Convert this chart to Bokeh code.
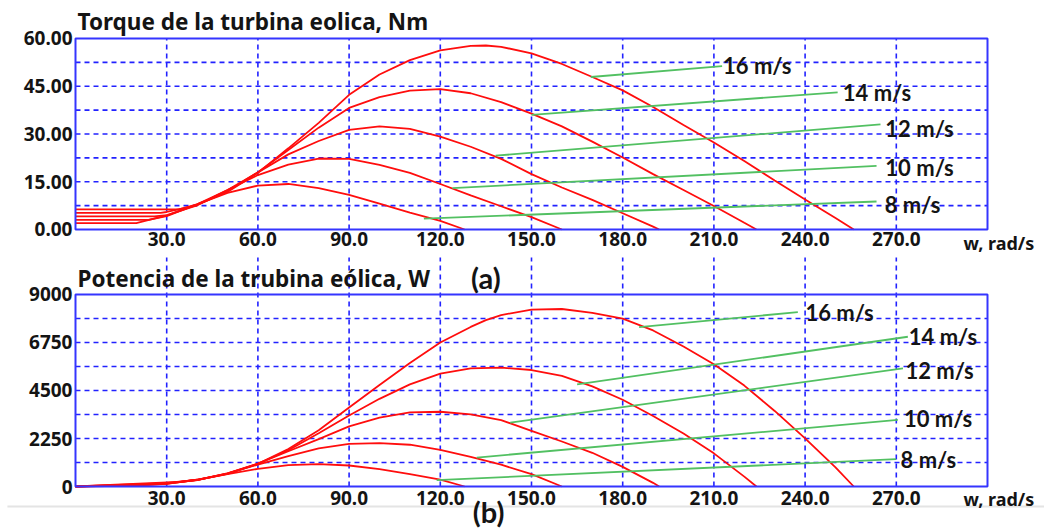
from bokeh.plotting import figure
from bokeh.layouts import column
from bokeh.models import FixedTicker, PrintfTickFormatter, Label, BoxAnnotation, Range1d
from bokeh.embed import file_html
from bokeh.resources import INLINE

# ---------------- data ----------------
speeds = ["8 m/s", "10 m/s", "12 m/s", "14 m/s", "16 m/s"]

# angular speed (rad/s), torque (Nm), power (W) for each wind speed
w8 = [0, 20, 30, 40, 50, 60, 70, 80, 90, 100, 110, 120, 128]
t8 = [2.0, 2.0, 4.4, 7.9, 11.5, 13.8, 14.3, 13.0, 10.9, 8.1, 5.3, 2.7, 0]
p8 = [0, 40, 132, 316, 575, 828, 1001, 1045, 985, 810, 585, 320, 0]

w10 = [0, 24, 30, 40, 50, 60, 70, 80, 90, 100, 110, 120, 130, 140, 150, 160]
t10 = [3.0, 3.0, 4.2, 7.9, 12.4, 17.1, 20.4, 22.3, 22.2, 20.3, 17.8, 14.3, 10.7, 7.3, 3.9, 0]
p10 = [0, 72, 126, 316, 620, 1026, 1428, 1784, 1998, 2030, 1958, 1720, 1391, 1022, 580, 0]

w12 = [0, 26, 30, 40, 50, 60, 70, 80, 90, 100, 110, 120, 130, 140, 150, 160, 170, 180, 190, 192]
t12 = [4.1, 4.1, 4.5, 7.6, 12.4, 17.9, 23.6, 27.8, 31.3, 32.4, 31.6, 29.2, 26.0, 22.2, 17.4, 13.2, 9.3, 5.1, 0.9, 0]
p12 = [0, 107, 135, 304, 620, 1074, 1652, 2224, 2815, 3230, 3476, 3504, 3380, 3110, 2610, 2110, 1580, 920, 171, 0]

w14 = [0, 28, 30, 40, 50, 60, 70, 80, 90, 100, 110, 120, 130, 140, 150, 160, 170, 180, 190, 200, 210, 220, 224]
t14 = [5.2, 5.2, 5.5, 7.6, 12.0, 18.0, 25.0, 32.0, 38.2, 41.6, 43.6, 44.1, 42.8, 40.0, 36.4, 32.4, 27.6, 22.6, 17.4, 12.4, 7.4, 2.1, 0]
p14 = [0, 146, 165, 304, 600, 1068, 1701, 2496, 3330, 4110, 4790, 5290, 5538, 5572, 5460, 5184, 4692, 4068, 3306, 2480, 1554, 462, 0]

w16 = [0, 34, 40, 50, 60, 70, 80, 90, 100, 110, 120, 130, 135, 140, 150, 160, 170, 180, 190, 200, 210, 220, 230, 240, 250, 256]
t16 = [6.3, 6.3, 7.9, 11.8, 17.8, 25.5, 33.5, 42.3, 48.7, 53.2, 56.3, 57.7, 57.8, 57.4, 55.3, 52.0, 47.9, 43.7, 38.5, 32.8, 27.3, 21.5, 15.4, 9.4, 3.6, 0]
p16 = [0, 214, 316, 590, 1062, 1760, 2640, 3700, 4760, 5790, 6750, 7480, 7800, 8036, 8295, 8320, 8143, 7866, 7315, 6560, 5733, 4730, 3542, 2256, 900, 0]

# green lines: [start, end] pairs
gt_w = [[114.6, 263.5], [124.0, 263.5], [138.2, 264.8], [150.0, 250.7], [169.5, 212.7]]
gt_t = [[3.4, 8.8], [13.0, 20.0], [23.2, 33.0], [36.0, 43.1], [47.9, 51.3]]
gp_w = [[118.8, 269.9], [132.0, 270.5], [143.0, 272.2], [165.0, 273.8], [185.4, 237.6]]
gp_p = [[296, 1279], [1357, 3120], [2995, 5537], [4788, 7019], [7472, 8173]]

# speed label anchor points
lt_w = [266.2, 266.4, 266.4, 252.4, 213.0]
lt_t = [7.85, 19.4, 31.8, 43.1, 51.5]
lp_w = [271.4, 272.5, 273.0, 274.1, 240.1]
lp_p = [1266, 3173, 5437, 7045, 8170]

x_ticks = [30, 60, 90, 120, 150, 180, 210, 240, 270]
t_ticks = [0, 15, 30, 45, 60]
t_grid = [7.5, 15, 22.5, 30, 37.5, 45, 52.5]
p_ticks = [0, 2250, 4500, 6750, 9000]
p_grid = [1125, 2250, 3375, 4500, 5625, 6750, 7875]

W_MAX = 300
T_MAX = 60
P_MAX = 9000
P_GRID_TOP = 10734.4   # the lower chart's vertical grid runs up into the gap

title_top = "Torque de la turbina eolica, Nm"
title_bot = "Potencia de la trubina eólica, W"
x_unit = "w, rad/s"

# ---------------- view geometry (visible window of each panel) ----------------
W_VIEW = (-24.671, 318.750)       # full page width
T_VIEW = (-8.168, 71.937)         # top panel, full height of its canvas
P_VIEW = (-2015.6, 10828.1)       # bottom panel, full height of its canvas

# ---------------- styling ----------------
RED = "#ff0d0d"
GREEN = "#52c062"
BLUE_GRID = "#2222ff"
BLUE_BORDER = "#3535ff"
TXT = "#141414"
TICK_FONT = "Noto Sans"
LBL_FONT = "Lato"
LW = 1.8


def make_fig(height, y_view):
    p = figure(width=1044, height=height, x_range=Range1d(*W_VIEW), y_range=Range1d(*y_view),
               output_backend="svg", toolbar_location=None, min_border=0,
               background_fill_color="white", border_fill_color="white")
    p.outline_line_color = None
    p.xgrid.visible = False
    p.ygrid.visible = False
    for ax in (p.xaxis[0], p.yaxis[0]):
        ax.fixed_location = 0
        ax.axis_line_color = None
        ax.major_tick_line_color = None
        ax.minor_tick_line_color = None
        ax.major_tick_in = 0
        ax.major_tick_out = 0
        ax.minor_tick_in = 0
        ax.minor_tick_out = 0
        ax.major_label_text_font = TICK_FONT
        ax.major_label_text_font_style = "bold"
        ax.major_label_text_font_size = "19px"
        ax.major_label_text_color = TXT
    p.xaxis[0].major_label_standoff = 4
    p.yaxis[0].major_label_standoff = 3
    p.xaxis.ticker = FixedTicker(ticks=x_ticks)
    p.xaxis.formatter = PrintfTickFormatter(format="%.1f")
    return p


def grid(p, y_top, y_lines):
    n = len(x_ticks)
    p.segment(x0=x_ticks, y0=[0] * n, x1=x_ticks, y1=[y_top] * n,
              line_color=BLUE_GRID, line_width=1.6, line_dash="5 4")
    m = len(y_lines)
    p.segment(x0=[0] * m, y0=y_lines, x1=[W_MAX] * m, y1=y_lines,
              line_color=BLUE_GRID, line_width=1.6, line_dash="5 4")


def txt(p, x, y, s, font, size, align="left", x_offset=0):
    p.add_layout(Label(x=x, y=y, x_offset=x_offset, text=s, text_font=font,
                       text_font_style="bold", text_font_size=size, text_color=TXT,
                       text_baseline="middle", text_align=align))


curves_w = [w8, w10, w12, w14, w16]
curves_t = [t8, t10, t12, t14, t16]
curves_p = [p8, p10, p12, p14, p16]

# ---------------- top: torque ----------------
p1 = make_fig(255, T_VIEW)
p1.xaxis[0].major_label_standoff = 3
p1.yaxis.ticker = FixedTicker(ticks=t_ticks)
p1.yaxis.formatter = PrintfTickFormatter(format="%.2f")
grid(p1, T_MAX, t_grid)
for ws, ts in zip(curves_w, curves_t):
    p1.line(ws, ts, line_color=RED, line_width=LW)
for gw, gt in zip(gt_w, gt_t):
    p1.line(gw, gt, line_color=GREEN, line_width=LW)
p1.add_layout(BoxAnnotation(left=0, right=W_MAX, bottom=0, top=T_MAX,
                            fill_color=None, fill_alpha=0, line_alpha=1,
                            line_color=BLUE_BORDER, line_width=2))
for s, lx, ly in zip(speeds, lt_w, lt_t):
    txt(p1, lx, ly, s, LBL_FONT, "22px")
txt(p1, 0, 65.3, title_top, TICK_FONT, "22.5px", x_offset=2)
txt(p1, 292.1, -4.3, x_unit, TICK_FONT, "18px")

# ---------------- bottom: power ----------------
p2 = make_fig(274, P_VIEW)
p2.yaxis.ticker = FixedTicker(ticks=p_ticks)
p2.yaxis.formatter = PrintfTickFormatter(format="%d")
grid(p2, P_GRID_TOP, p_grid)
for ws, ps in zip(curves_w, curves_p):
    p2.line(ws, ps, line_color=RED, line_width=LW)
for gw, gp in zip(gp_w, gp_p):
    p2.line(gw, gp, line_color=GREEN, line_width=LW)
p2.add_layout(BoxAnnotation(left=0, right=W_MAX, bottom=0, top=P_MAX,
                            fill_color=None, fill_alpha=0, line_alpha=1,
                            line_color=BLUE_BORDER, line_width=2))
for s, lx, ly in zip(speeds, lp_w, lp_p):
    txt(p2, lx, ly, s, LBL_FONT, "22px")
txt(p2, 0, 9750, title_bot, TICK_FONT, "22.5px", x_offset=2)
txt(p2, 135.0, 9800, "(a)", LBL_FONT, "29px", align="center")
# light separator under the lower chart
p2.add_layout(BoxAnnotation(left=-22.4, right=W_VIEW[1], bottom=-984, top=-891,
                            fill_color="#e4e4e4", fill_alpha=1, line_color=None))
txt(p2, 135.9, -1172, "(b)", LBL_FONT, "29px", align="center")
txt(p2, 292.1, -563, x_unit, TICK_FONT, "18px")

layout = column(p1, p2, spacing=0)
open("out.html", "w").write(file_html(layout, INLINE))
